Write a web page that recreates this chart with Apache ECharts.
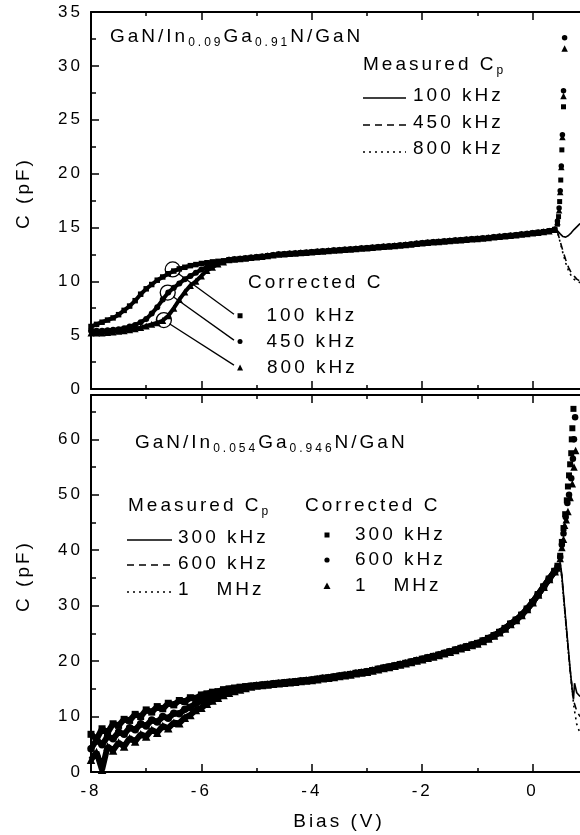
<!DOCTYPE html>
<html>
<head>
<meta charset="utf-8">
<script src="https://cdn.jsdelivr.net/npm/echarts@6/dist/echarts.min.js"></script>
<style>
  html, body { margin: 0; padding: 0; background: #fff; overflow: hidden; width: 580px; height: 835px; }
  /* the plot frame runs on past the right edge of the page (to +2 V) */
  #chart { width: 643px; height: 835px; }
</style>
</head>
<body>
<div id="chart"></div>
<script>
// ---- Upper sample: GaN/In0.09Ga0.91N/GaN ----
const topBiasRise = [-8.0, -7.9, -7.8, -7.7, -7.6, -7.5, -7.4, -7.3, -7.2, -7.1, -7.0, -6.9, -6.8,
  -6.7, -6.6, -6.5, -6.4, -6.3, -6.2, -6.1, -6.0, -5.9, -5.8, -5.7, -5.6];
const top100Rise = [5.8, 6.0, 6.2, 6.4, 6.6, 6.9, 7.3, 7.7, 8.2, 8.8, 9.3, 9.7, 10.1,
  10.4, 10.7, 10.95, 11.15, 11.3, 11.45, 11.55, 11.65, 11.72, 11.8, 11.85, 11.9];
const top450Rise = [5.4, 5.4, 5.4, 5.45, 5.5, 5.55, 5.65, 5.8, 5.95, 6.2, 6.5, 7.0, 7.6,
  8.3, 8.95, 9.4, 9.8, 10.2, 10.5, 10.8, 11.1, 11.3, 11.5, 11.7, 11.8];
const top800Rise = [5.2, 5.2, 5.2, 5.25, 5.3, 5.35, 5.4, 5.5, 5.6, 5.7, 5.85, 6.0, 6.15,
  6.35, 6.8, 7.5, 8.3, 9.0, 9.6, 10.0, 10.5, 11.0, 11.3, 11.6, 11.8];

const topBiasFlat = [-5.5, -5.4, -5.3, -5.2, -5.1, -5.0, -4.9, -4.8, -4.7, -4.6,
  -4.5, -4.4, -4.3, -4.2, -4.1, -4.0, -3.9, -3.8, -3.7, -3.6,
  -3.5, -3.4, -3.3, -3.2, -3.1, -3.0, -2.9, -2.8, -2.7, -2.6,
  -2.5, -2.4, -2.3, -2.2, -2.1, -2.0, -1.9, -1.8, -1.7, -1.6,
  -1.5, -1.4, -1.3, -1.2, -1.1, -1.0, -0.9, -0.8, -0.7, -0.6,
  -0.5, -0.4, -0.3, -0.2, -0.1, 0.0, 0.1, 0.2, 0.3, 0.4];
const topFlat = [12.0, 12.05, 12.1, 12.15, 12.2, 12.25, 12.3, 12.37, 12.43, 12.5,
  12.53, 12.57, 12.6, 12.64, 12.68, 12.72, 12.76, 12.8, 12.83, 12.87,
  12.9, 12.94, 12.98, 13.02, 13.06, 13.1, 13.14, 13.18, 13.22, 13.26,
  13.3, 13.34, 13.39, 13.44, 13.5, 13.55, 13.6, 13.64, 13.68, 13.72,
  13.76, 13.8, 13.84, 13.88, 13.92, 13.96, 14.0, 14.05, 14.1, 14.15,
  14.2, 14.25, 14.3, 14.36, 14.42, 14.48, 14.54, 14.6, 14.68, 14.8];

// forward-bias ends [bias, C]
const topMeasured100Tail = [[0.45, 14.7], [0.5, 14.4], [0.55, 14.15], [0.6, 14.1], [0.65, 14.25],
  [0.7, 14.5], [0.75, 14.8], [0.8, 15.05], [0.85, 15.3], [0.9, 15.5]];
const topMeasured450Tail = [[0.45, 14.6], [0.5, 13.7], [0.55, 12.8], [0.6, 12.0], [0.65, 11.3],
  [0.7, 10.8], [0.75, 10.5], [0.8, 10.2], [0.9, 9.9]];
const topMeasured800Tail = [[0.45, 14.6], [0.5, 13.6], [0.55, 12.6], [0.6, 11.7], [0.65, 11.0],
  [0.7, 10.5], [0.75, 10.2], [0.8, 10.0], [0.9, 9.8]];
const topCorrected100Tail = [[0.45, 15.3], [0.47, 16.0], [0.49, 17.4], [0.51, 19.4], [0.53, 22.2], [0.56, 26.2]];
const topCorrected450Tail = [[0.45, 15.6], [0.48, 16.8], [0.5, 18.4], [0.52, 20.7], [0.54, 23.6], [0.56, 27.7], [0.58, 32.6]];
const topCorrected800Tail = [[0.45, 15.5], [0.48, 16.6], [0.5, 18.3], [0.52, 20.6], [0.54, 23.4], [0.56, 27.2], [0.58, 31.6]];

// circled curves and the pointer lines to their keys
const topCircled = [[-6.52, 11.1], [-6.61, 8.95], [-6.68, 6.4]];
const topPointerFrom = [[-6.42, 10.73], [-6.51, 8.57], [-6.58, 6.06]];
const topPointerTo = [[-5.41, 6.94], [-5.41, 4.54], [-5.41, 2.22]];
const topKeyPoints = [[-5.30, 6.8], [-5.30, 4.4], [-5.30, 2.0]];
const topFreqLabels = ['100 kHz', '450 kHz', '800 kHz'];

// ---- Lower sample: GaN/In0.054Ga0.946N/GaN ----
const botBiasRise = [-8.0, -7.9, -7.8, -7.7, -7.6, -7.5, -7.4, -7.3, -7.2, -7.1,
  -7.0, -6.9, -6.8, -6.7, -6.6, -6.5, -6.4, -6.3, -6.2, -6.1,
  -6.0, -5.9, -5.8, -5.7, -5.6, -5.5, -5.4, -5.3, -5.2, -5.1];
const bot300Rise = [6.8, 5.9, 7.8, 7.1, 8.7, 8.4, 9.5, 9.3, 10.4, 10.0,
  11.2, 10.8, 11.8, 11.4, 12.4, 12.1, 12.9, 12.7, 13.4, 13.3,
  13.9, 14.1, 14.4, 14.5, 14.85, 15.0, 15.15, 15.3, 15.4, 15.5];
const bot600Rise = [4.2, 5.8, 4.9, 6.4, 6.0, 7.2, 6.8, 8.0, 7.6, 8.7,
  8.3, 9.4, 9.0, 10.0, 9.7, 10.6, 10.5, 11.3, 11.7, 12.4,
  12.8, 13.4, 13.8, 14.2, 14.5, 14.8, 15.0, 15.2, 15.35, 15.45];
const bot1MRise = [2.2, 3.6, 0.4, 4.6, 3.9, 5.3, 4.6, 6.1, 5.5, 6.8,
  6.4, 7.6, 7.1, 8.3, 7.9, 8.9, 8.8, 9.8, 10.3, 11.2,
  11.6, 12.3, 12.9, 13.4, 13.9, 14.3, 14.6, 14.9, 15.15, 15.4];

const botBiasFlat = [-5.0, -4.9, -4.8, -4.7, -4.6, -4.5, -4.4, -4.3, -4.2, -4.1,
  -4.0, -3.9, -3.8, -3.7, -3.6, -3.5, -3.4, -3.3, -3.2, -3.1,
  -3.0, -2.9, -2.8, -2.7, -2.6, -2.5, -2.4, -2.3, -2.2, -2.1,
  -2.0, -1.9, -1.8, -1.7, -1.6, -1.5, -1.4, -1.3, -1.2, -1.1,
  -1.0, -0.9, -0.8, -0.7, -0.6, -0.5, -0.4, -0.3, -0.2, -0.1,
  0.0, 0.1, 0.2, 0.3, 0.4];
const botFlat = [15.6, 15.7, 15.8, 15.9, 16.0, 16.1, 16.2, 16.3, 16.4, 16.5,
  16.6, 16.75, 16.9, 17.0, 17.15, 17.3, 17.45, 17.6, 17.8, 17.95,
  18.1, 18.3, 18.55, 18.75, 18.95, 19.15, 19.4, 19.6, 19.85, 20.1,
  20.35, 20.6, 20.85, 21.1, 21.4, 21.7, 22.0, 22.3, 22.6, 22.9,
  23.2, 23.65, 24.1, 24.6, 25.2, 25.9, 26.7, 27.4, 28.3, 29.4,
  30.6, 32.0, 33.4, 34.8, 36.2];

const botMeasured300Tail = [[0.45, 37.0], [0.5, 37.8], [0.53, 35.5], [0.56, 32.0], [0.6, 27.5], [0.64, 23.0],
  [0.68, 18.6], [0.72, 14.6], [0.74, 13.1], [0.76, 16.0], [0.8, 14.3], [0.86, 13.6]];
const botMeasured600Tail = [[0.45, 37.0], [0.5, 37.6], [0.53, 35.2], [0.56, 31.8], [0.6, 27.2], [0.64, 22.7],
  [0.68, 18.4], [0.72, 14.8], [0.75, 12.6], [0.8, 11.0], [0.86, 10.0]];
const botMeasured1MTail = [[0.45, 36.8], [0.5, 37.4], [0.53, 35.0], [0.56, 31.5], [0.6, 27.0], [0.64, 22.5],
  [0.68, 18.2], [0.72, 14.4], [0.75, 11.6], [0.8, 8.6], [0.86, 7.0]];
const botCorrected300Tail = [[0.45, 37.2], [0.5, 39.0], [0.53, 41.5], [0.56, 44.0], [0.59, 46.5], [0.62, 49.0],
  [0.64, 51.5], [0.66, 53.5], [0.68, 55.5], [0.7, 57.5], [0.71, 60.0], [0.72, 62.0], [0.74, 65.5]];
const botCorrected600Tail = [[0.45, 37.0], [0.5, 38.8], [0.53, 41.0], [0.56, 43.0], [0.6, 46.0], [0.63, 48.5],
  [0.66, 50.0], [0.7, 53.0], [0.73, 56.5], [0.75, 60.0], [0.77, 64.0]];
const botCorrected1MTail = [[0.45, 36.8], [0.5, 38.5], [0.53, 40.5], [0.56, 42.0], [0.58, 44.5], [0.61, 45.5],
  [0.64, 47.0], [0.68, 49.5], [0.72, 52.0], [0.75, 55.0], [0.78, 58.0]];

// ---- axis ticks ----
const biasTicks = { min: -8, max: 2, step: 2 };
const topCapTicks = { min: 0, max: 35, step: 5 };
const botCapMajor = [0, 10, 20, 30, 40, 50, 60];
const botCapMinor = [5, 15, 25, 35, 45, 55, 65];
const botCapMax = 68;

// ---------------------------------------------------------------
const FONT = '"Liberation Sans", Arial, Helvetica, sans-serif';
const INK = '#000';

// Wide letter tracking for all chart text (applied to every 2D canvas context)
const TRACKING = '3px';
const nativeGetContext = HTMLCanvasElement.prototype.getContext;
HTMLCanvasElement.prototype.getContext = function (kind, attrs) {
  const ctx = nativeGetContext.call(this, kind, attrs);
  if (kind === '2d' && ctx && 'letterSpacing' in ctx) ctx.letterSpacing = TRACKING;
  return ctx;
};

const pairs = (xs, ys) => xs.map((x, i) => [x, ys[i]]);

const topBase100 = pairs(topBiasRise, top100Rise).concat(pairs(topBiasFlat, topFlat));
const topBase450 = pairs(topBiasRise, top450Rise).concat(pairs(topBiasFlat, topFlat));
const topBase800 = pairs(topBiasRise, top800Rise).concat(pairs(topBiasFlat, topFlat));
const botBase300 = pairs(botBiasRise, bot300Rise).concat(pairs(botBiasFlat, botFlat));
const botBase600 = pairs(botBiasRise, bot600Rise).concat(pairs(botBiasFlat, botFlat));
const botBase1M = pairs(botBiasRise, bot1MRise).concat(pairs(botBiasFlat, botFlat));

const SOLID = 'solid', DASHED = [7, 5], DOTTED = [2, 4];

// measured Cp: thin solid / dashed / dotted traces
function measured(name, xi, yi, data, dash) {
  return {
    name, type: 'line', xAxisIndex: xi, yAxisIndex: yi, data,
    symbol: 'none', showSymbol: false, silent: true,
    lineStyle: { color: INK, width: 1.6, type: dash, opacity: 1 }, z: 2
  };
}
// corrected C over the dense reverse-bias sweep: closely packed points form a heavy band
function correctedSweep(name, xi, yi, data, symbol, size, band) {
  return {
    name, type: 'line', xAxisIndex: xi, yAxisIndex: yi, data,
    symbol, symbolSize: size, showSymbol: true, showAllSymbol: true, silent: true,
    lineStyle: { color: INK, width: band, opacity: 1 },
    itemStyle: { color: INK, opacity: 1 }, z: 3
  };
}
// corrected C near forward bias: isolated points
function correctedTail(name, xi, yi, data, symbol, size) {
  return {
    name, type: 'scatter', xAxisIndex: xi, yAxisIndex: yi, data,
    symbol, symbolSize: size, silent: true,
    itemStyle: { color: INK, opacity: 1 }, z: 3
  };
}

const tickStyle = { color: INK, width: 1.5 };
function biasAxis(gridIndex, position, withLabels) {
  return {
    type: 'value', gridIndex, position,
    min: biasTicks.min, max: biasTicks.max, interval: biasTicks.step,
    axisLine: { show: true, onZero: false, lineStyle: { color: INK, width: 2 } },
    axisTick: { show: true, inside: true, length: 8, lineStyle: tickStyle },
    minorTick: { show: true, splitNumber: 2, length: 4, lineStyle: tickStyle },
    splitLine: { show: false },
    axisLabel: {
      show: withLabels, color: INK, fontSize: 17, fontFamily: FONT, margin: 9,
      showMaxLabel: false
    }
  };
}

const keySymbols = ['rect', 'circle', 'triangle'];
const keySizes = [5, 5, 6];
const labelFont = { color: INK, fontSize: 19, fontFamily: FONT };

const option = {
  animation: false,
  backgroundColor: '#fff',
  textStyle: { fontFamily: FONT, color: INK },
  grid: [
    { left: 91, top: 12, right: 0, height: 377 },
    { left: 91, top: 395, right: 0, height: 377 }
  ],
  xAxis: [
    biasAxis(0, 'bottom', false),
    biasAxis(0, 'top', false),
    biasAxis(1, 'bottom', true),
    biasAxis(1, 'top', false)
  ],
  yAxis: [
    {
      type: 'value', gridIndex: 0, position: 'left',
      min: topCapTicks.min, max: topCapTicks.max, interval: topCapTicks.step,
      axisLine: { show: true, onZero: false, lineStyle: { color: INK, width: 2 } },
      axisTick: { show: true, inside: true, length: 8, lineStyle: tickStyle },
      minorTick: { show: true, splitNumber: 2, length: 5, lineStyle: tickStyle },
      splitLine: { show: false },
      axisLabel: { color: INK, fontSize: 17, fontFamily: FONT, margin: 8 }
    },
    {
      type: 'value', gridIndex: 1, position: 'left', min: 0, max: botCapMax, interval: 10,
      axisLine: { show: true, onZero: false, lineStyle: { color: INK, width: 2 } },
      axisTick: { show: true, inside: true, length: 8, lineStyle: tickStyle, customValues: botCapMajor },
      splitLine: { show: false },
      axisLabel: { color: INK, fontSize: 17, fontFamily: FONT, margin: 8, customValues: botCapMajor }
    },
    {
      type: 'value', gridIndex: 1, position: 'left', min: 0, max: botCapMax, interval: 10,
      axisLine: { show: false, onZero: false },
      axisTick: { show: true, inside: true, length: 5, lineStyle: tickStyle, customValues: botCapMinor },
      splitLine: { show: false },
      axisLabel: { show: false }
    }
  ],
  series: [
    // upper panel
    measured('Cp 100 kHz', 0, 0, topBase100.concat(topMeasured100Tail), SOLID),
    measured('Cp 450 kHz', 0, 0, topBase450.concat(topMeasured450Tail), DASHED),
    measured('Cp 800 kHz', 0, 0, topBase800.concat(topMeasured800Tail), DOTTED),
    correctedSweep('C 100 kHz', 0, 0, topBase100, 'rect', [5.5, 5.5], 4),
    correctedSweep('C 450 kHz', 0, 0, topBase450, 'circle', 6, 4),
    correctedSweep('C 800 kHz', 0, 0, topBase800, 'triangle', 7, 4),
    correctedTail('C 100 kHz', 0, 0, topCorrected100Tail, 'rect', [5, 5]),
    correctedTail('C 450 kHz', 0, 0, topCorrected450Tail, 'circle', 5.5),
    correctedTail('C 800 kHz', 0, 0, topCorrected800Tail, 'triangle', 6.5),
    {
      type: 'scatter', xAxisIndex: 0, yAxisIndex: 0, data: topCircled, silent: true,
      symbol: 'circle', symbolSize: 15, z: 5,
      itemStyle: { color: 'rgba(0,0,0,0)', borderColor: INK, borderWidth: 1.3, opacity: 1 }
    },
    {
      type: 'lines', coordinateSystem: 'cartesian2d', xAxisIndex: 0, yAxisIndex: 0, silent: true, z: 5,
      data: topPointerFrom.map((p, i) => ({ coords: [p, topPointerTo[i]] })),
      lineStyle: { color: INK, width: 1.3, opacity: 1 }
    },
    {
      type: 'scatter', xAxisIndex: 0, yAxisIndex: 0, silent: true, z: 5,
      data: topKeyPoints.map((p, i) => ({
        value: p, symbol: keySymbols[i], symbolSize: keySizes[i],
        label: { show: true, position: 'right', distance: 24, formatter: topFreqLabels[i], ...labelFont }
      })),
      itemStyle: { color: INK, opacity: 1 }
    },
    // lower panel
    measured('Cp 300 kHz', 2, 1, botBase300.concat(botMeasured300Tail), SOLID),
    measured('Cp 600 kHz', 2, 1, botBase600.concat(botMeasured600Tail), DASHED),
    measured('Cp 1 MHz', 2, 1, botBase1M.concat(botMeasured1MTail), DOTTED),
    correctedSweep('C 300 kHz', 2, 1, botBase300, 'rect', [7, 7], 6),
    correctedSweep('C 600 kHz', 2, 1, botBase600, 'circle', 7.5, 6),
    correctedSweep('C 1 MHz', 2, 1, botBase1M, 'triangle', 8.5, 6),
    correctedTail('C 300 kHz', 2, 1, botCorrected300Tail, 'rect', [6, 6]),
    correctedTail('C 600 kHz', 2, 1, botCorrected600Tail, 'circle', 6.5),
    correctedTail('C 1 MHz', 2, 1, botCorrected1MTail, 'triangle', 7.5)
  ],
  graphic: []
};

// ---- text and keys drawn on top of the plots ----
const richSub = {
  m: { fontSize: 19, lineHeight: 26, fontFamily: FONT, fill: INK },
  s: { fontSize: 12, lineHeight: 8, verticalAlign: 'bottom', fontFamily: FONT, fill: INK }
};
function richText(x, y, text) {
  return { type: 'text', x, y, silent: true, z: 10,
    style: { text, rich: richSub, fill: INK, align: 'left', verticalAlign: 'top' } };
}
function plainText(x, y, text, rotation) {
  return { type: 'text', x, y, rotation: rotation || 0, silent: true, z: 10,
    style: { text, fontSize: 19, fontFamily: FONT, fill: INK,
      align: rotation ? 'center' : 'left', verticalAlign: 'middle' } };
}
function sample(x1, x2, y, dash) {
  return { type: 'line', silent: true, z: 10, shape: { x1, y1: y, x2, y2: y },
    style: { stroke: INK, lineWidth: 1.5, lineDash: dash === SOLID ? null : dash } };
}

option.graphic = [
  plainText(24, 193, 'C (pF)', Math.PI / 2),
  plainText(24, 576, 'C (pF)', Math.PI / 2),
  { type: 'text', x: 339, y: 822, silent: true,
    style: { text: 'Bias (V)', fontSize: 19, fontFamily: FONT, fill: INK, align: 'center', verticalAlign: 'middle' } },

  // upper panel key
  richText(110, 24, '{m|GaN/In}{s|0.09}{m|Ga}{s|0.91}{m|N/GaN}'),
  richText(363, 52, '{m|Measured C}{s|p}'),
  sample(363, 406, 98, SOLID), plainText(413, 96, '100 kHz'),
  sample(363, 406, 125, DASHED), plainText(413, 123, '450 kHz'),
  sample(363, 406, 152, DOTTED), plainText(413, 149, '800 kHz'),
  plainText(248, 283, 'Corrected C'),

  // lower panel key
  richText(135, 430, '{m|GaN/In}{s|0.054}{m|Ga}{s|0.946}{m|N/GaN}'),
  richText(128, 493, '{m|Measured C}{s|p}'),
  sample(127, 172, 540, SOLID), plainText(178, 538, '300 kHz'),
  sample(127, 172, 565, DASHED), plainText(178, 564, '600 kHz'),
  sample(127, 172, 592, DOTTED), plainText(178, 590, '1   MHz'),
  plainText(305, 506, 'Corrected C'),
  { type: 'rect', silent: true, z: 10, shape: { x: 324.5, y: 532.5, width: 5, height: 5 }, style: { fill: INK } },
  plainText(355, 535, '300 kHz'),
  { type: 'circle', silent: true, z: 10, shape: { cx: 327, cy: 560, r: 2.6 }, style: { fill: INK } },
  plainText(355, 560, '600 kHz'),
  { type: 'polygon', silent: true, z: 10, shape: { points: [[327, 582.5], [330.5, 589], [323.5, 589]] }, style: { fill: INK } },
  plainText(355, 586, '1   MHz')
];

const chart = echarts.init(document.getElementById('chart'), null, { renderer: 'canvas' });
chart.setOption(option);
</script>
</body>
</html>
